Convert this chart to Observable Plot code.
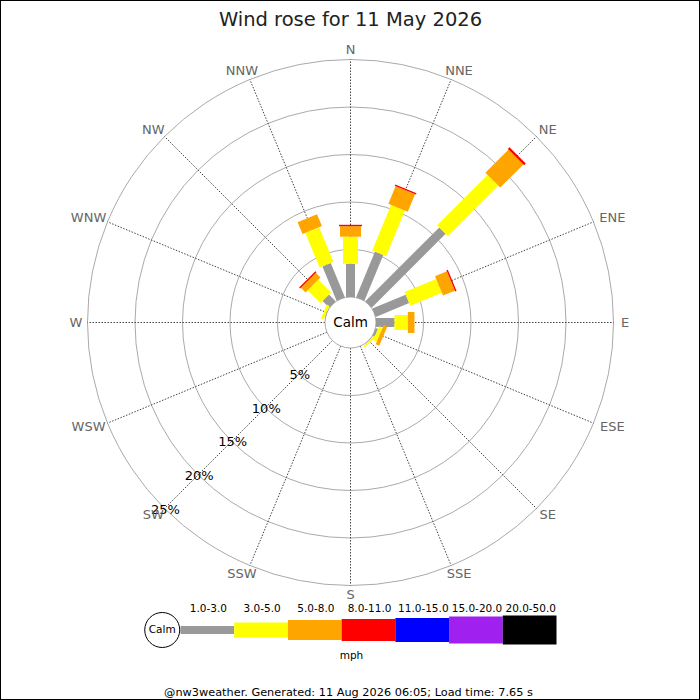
<!DOCTYPE html>
<html><head><meta charset="utf-8">
<script src="https://cdn.jsdelivr.net/npm/d3@7"></script>
<script src="https://cdn.jsdelivr.net/npm/@observablehq/plot@0.6"></script>
<style>
html,body{margin:0;padding:0;background:#fff;}
#wrap{width:700px;height:700px;outline:1px solid #000;outline-offset:-1px;overflow:hidden;font-family:"DejaVu Sans";}
#wrap svg{display:block;font-family:"DejaVu Sans";overflow:visible;}
</style></head><body><div id="wrap"></div>
<script>
// ---- data ----
const titleText = "Wind rose for 11 May 2026";
const footerText = "@nw3weather. Generated: 11 Aug 2026 06:05; Load time: 7.65 s";
const unitText = "mph";
const directions = ["N","NNE","NE","ENE","E","ESE","SE","SSE","S","SSW","SW","WSW","W","WNW","NW","NNW"];
const speedBins = ["1.0-3.0","3.0-5.0","5.0-8.0","8.0-11.0","11.0-15.0","15.0-20.0","20.0-50.0"];
const binColors = ["#999999","#ffff00","#ffa500","#ff0000","#0000ff","#a020f0","#000000"];
// percent of time per direction, for each speed bin
//                N     NNE   NE    ENE   E     ESE   SE    SSE S  SSW SW WSW W  WNW   NW    NNW
const pct1to3   = [3.5,  5.2,  11.0, 3.8,  1.95, 0.25, 0.05, 0, 0, 0, 0, 0,  0, 0.05, 1.0,  3.9];
const pct3to5   = [2.85, 5.2,  7.5,  3.6,  1.4,  0.4,  0.2,  0, 0, 0, 0, 0,  0, 0.3,  1.9,  3.95];
const pct5to8   = [1.1,  2.0,  3.45, 1.35, 0.7,  0.4,  0,    0, 0, 0, 0, 0,  0, 0,    0.7,  1.35];
const pct8to11  = [0.15, 0.15, 0.25, 0.15, 0,    0,    0,    0, 0, 0, 0, 0,  0, 0,    0.15, 0];
const pct11to15 = [0,0,0,0,0,0,0,0,0,0,0,0,0,0,0,0];
const pct15to20 = [0,0,0,0,0,0,0,0,0,0,0,0,0,0,0,0];
const pct20to50 = [0,0,0,0,0,0,0,0,0,0,0,0,0,0,0,0];
const series = [pct1to3, pct3to5, pct5to8, pct8to11, pct11to15, pct15to20, pct20to50];
const ringPcts = [5, 10, 15, 20, 25];
const ringLabels = ["5%", "10%", "15%", "20%", "25%"];
const calmLabel = "Calm";

// ---- layout/styles ----
const W = 700, H1 = 590, H2 = 110;
const cx = 350, cy = 322;
const k = 9.5;            // px per percent
const calmPx = 25.5;      // calm circle radius px
const calmU = calmPx / k; // in percent units
const barWidths = [9, 15, 21, 23, 25, 27, 29];
const legendWidths = [8, 15, 20, 22, 24, 27, 29];
const rad = i => i * Math.PI / 8;

// segments
const segments = [];
directions.forEach((dir, i) => {
  let cum = 0;
  series.forEach((s, b) => {
    const v = s[i];
    if (v > 0) {
      const a = rad(i);
      const r0 = calmU + cum, r1 = calmU + cum + v;
      segments.push({dir, bin: b, x1: r0*Math.sin(a), y1: r0*Math.cos(a), x2: r1*Math.sin(a), y2: r1*Math.cos(a)});
    }
    cum += v;
  });
});

const marks = [];
// rings
marks.push(Plot.dot(ringPcts, {x: () => 0, y: () => 0, r: p => (calmU + p) * k, fill: "none", stroke: "#aaa", strokeWidth: 1}));
// spokes
marks.push(Plot.link(directions, {
  x1: (d, i) => calmU * Math.sin(rad(i)), y1: (d, i) => calmU * Math.cos(rad(i)),
  x2: (d, i) => (calmU + 25) * Math.sin(rad(i)), y2: (d, i) => (calmU + 25) * Math.cos(rad(i)),
  stroke: "#444", strokeWidth: 1, strokeDasharray: "1.5,1.5"
}));
// calm circle
marks.push(Plot.dot([calmLabel], {x: () => 0, y: () => 0, r: () => calmPx, fill: "#fff", stroke: "#aaa", strokeWidth: 1}));
// bars
speedBins.forEach((bin, b) => {
  marks.push(Plot.link(segments.filter(s => s.bin === b), {
    x1: "x1", y1: "y1", x2: "x2", y2: "y2", stroke: binColors[b], strokeWidth: barWidths[b]
  }));
});
// calm text
marks.push(Plot.text([calmLabel], {x: () => 0, y: () => 0, text: d => d, fontSize: 13.5, fill: "#000"}));
// ring labels along SW
const sw = 10 * Math.PI / 8;
marks.push(Plot.text(ringPcts, {x: p => (calmU + p) * Math.sin(sw), y: p => (calmU + p) * Math.cos(sw),
  text: (p, i) => ringLabels[i], fontSize: 13, fill: "#000", dx: 1, dy: 1}));
// direction labels
const Rl = 270 / k;
directions.forEach((dir, i) => {
  const a = rad(i);
  const w = dir.length * 9;
  marks.push(Plot.text([dir], {x: () => Rl * Math.sin(a), y: () => Rl * Math.cos(a), text: d => d,
    fontSize: 13, fill: "#666", dx: Math.sin(a) * w / 2, dy: -2.5 * Math.cos(a)}));
});
// title
marks.push(Plot.text([titleText], {frameAnchor: "top", lineAnchor: "middle", dy: 19, text: d => d, fontSize: 19.5, fill: "#222"}));

const rose = Plot.plot({
  width: W, height: H1, margin: 0,
  x: {domain: [-cx / k, (W - cx) / k], range: [0, W], axis: null},
  y: {domain: [-(H1 - cy) / k, cy / k], range: [H1, 0], axis: null},
  r: {type: "identity"},
  style: {fontFamily: "DejaVu Sans", background: "transparent", overflow: "visible"},
  marks
});

// ---- legend ----
const lm = [];
const legY = 39.5;
speedBins.forEach((bin, b) => {
  lm.push(Plot.link([bin], {x1: () => b, x2: () => b + 1, y1: () => legY, y2: () => legY, stroke: binColors[b], strokeWidth: legendWidths[b]}));
});
lm.push(Plot.dot([calmLabel], {x: () => -0.34, y: () => legY, r: () => 17.5, fill: "#fff", stroke: "#000", strokeWidth: 1}));
lm.push(Plot.text([calmLabel], {x: () => -0.34, y: () => legY, text: d => d, fontSize: 10.5, fill: "#000"}));
lm.push(Plot.text(speedBins, {x: (d, i) => i + 0.52, y: () => 18.3, text: d => d, fontSize: 10.5, fill: "#000"}));
lm.push(Plot.text([unitText], {frameAnchor: "top", lineAnchor: "middle", dy: 65.5, dx: 1, text: d => d, fontSize: 10.5, fill: "#000"}));
lm.push(Plot.text([footerText], {frameAnchor: "top", lineAnchor: "middle", dy: 102, dx: -2, text: d => d, fontSize: 11.3, fill: "#000"}));

const legend = Plot.plot({
  width: W, height: H2, margin: 0,
  x: {domain: [0, 7], range: [180, 556], axis: null},
  y: {domain: [0, H2], range: [0, H2], axis: null},
  r: {type: "identity"},
  style: {fontFamily: "DejaVu Sans", background: "transparent", overflow: "visible"},
  marks: lm
});

const wrap = document.getElementById("wrap");
wrap.appendChild(rose);
wrap.appendChild(legend);
</script></body></html>
